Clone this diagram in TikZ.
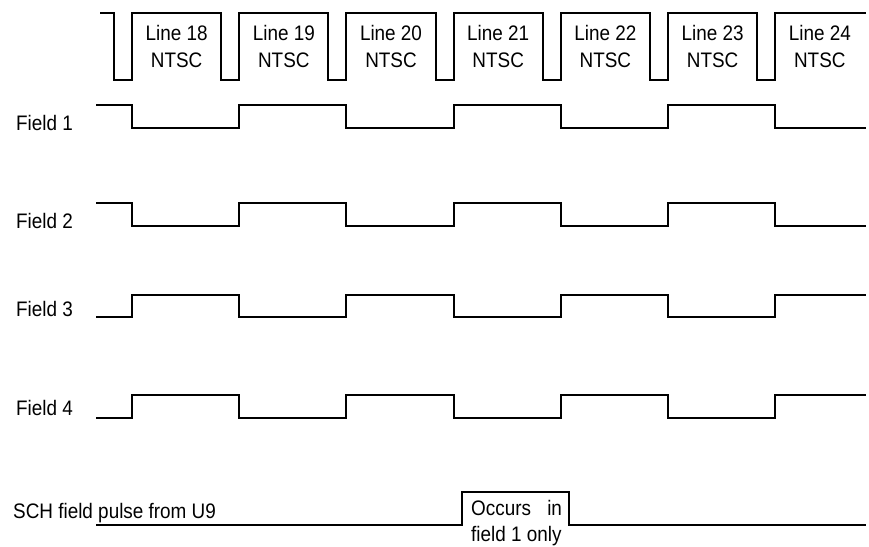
\documentclass[tikz,border=0pt]{standalone}
\usepackage{fontspec}
\setmainfont{Liberation Sans}[FakeStretch=0.9]
\usepackage{tikz}
\newcommand{\fieldwave}[2]{%
  \draw[wave] (96,#1) foreach \i in {0,2,4} {-| ({132+107.2*\i},#2) -| ({239.2+107.2*\i},#1)} -| (775.2,#2) -- (866,#2);}

\begin{document}
\begin{tikzpicture}[x=1pt, y=-1pt, font=\fontsize{21}{27}\selectfont, wave/.style={draw=black, line width=2pt}, lbl/.style={inner sep=0pt, anchor=base west}, linelbl/.style={inner sep=0pt, align=center, anchor=north}]
\useasboundingbox (0,0) rectangle (869,546);
% NTSC line gate
\draw[wave] (100,13) foreach \i in {0,...,6} {-| ({114+107.2*\i},80) -| ({132+107.2*\i},13)} -- (866,13);
\foreach \n [count=\i from 0] in {18,...,24}
  \node[linelbl] (line\n) at ({176.6+107.2*\i},25) {Line \n\\NTSC};
% fields
\node[lbl] (field1) at (16,130) {Field 1};
\fieldwave{105}{128}
\node[lbl] (field2) at (16,228) {Field 2};
\fieldwave{203}{226}
\node[lbl] (field3) at (16,316) {Field 3};
\fieldwave{317}{295}
\node[lbl] (field4) at (16,415) {Field 4};
\fieldwave{418}{395}
% SCH pulse
\node[lbl] (sch) at (13,518) {SCH field pulse from U9};
\draw[wave] (96,525) -| (462,492) -| (569,525) -- (866,525);
\node[inner sep=0pt, anchor=north west, align=left, font=\fontsize{21}{26}\selectfont] (occurs) at (471,500) {Occurs\hspace{11pt} in\\field 1 only};
\end{tikzpicture}
\end{document}
